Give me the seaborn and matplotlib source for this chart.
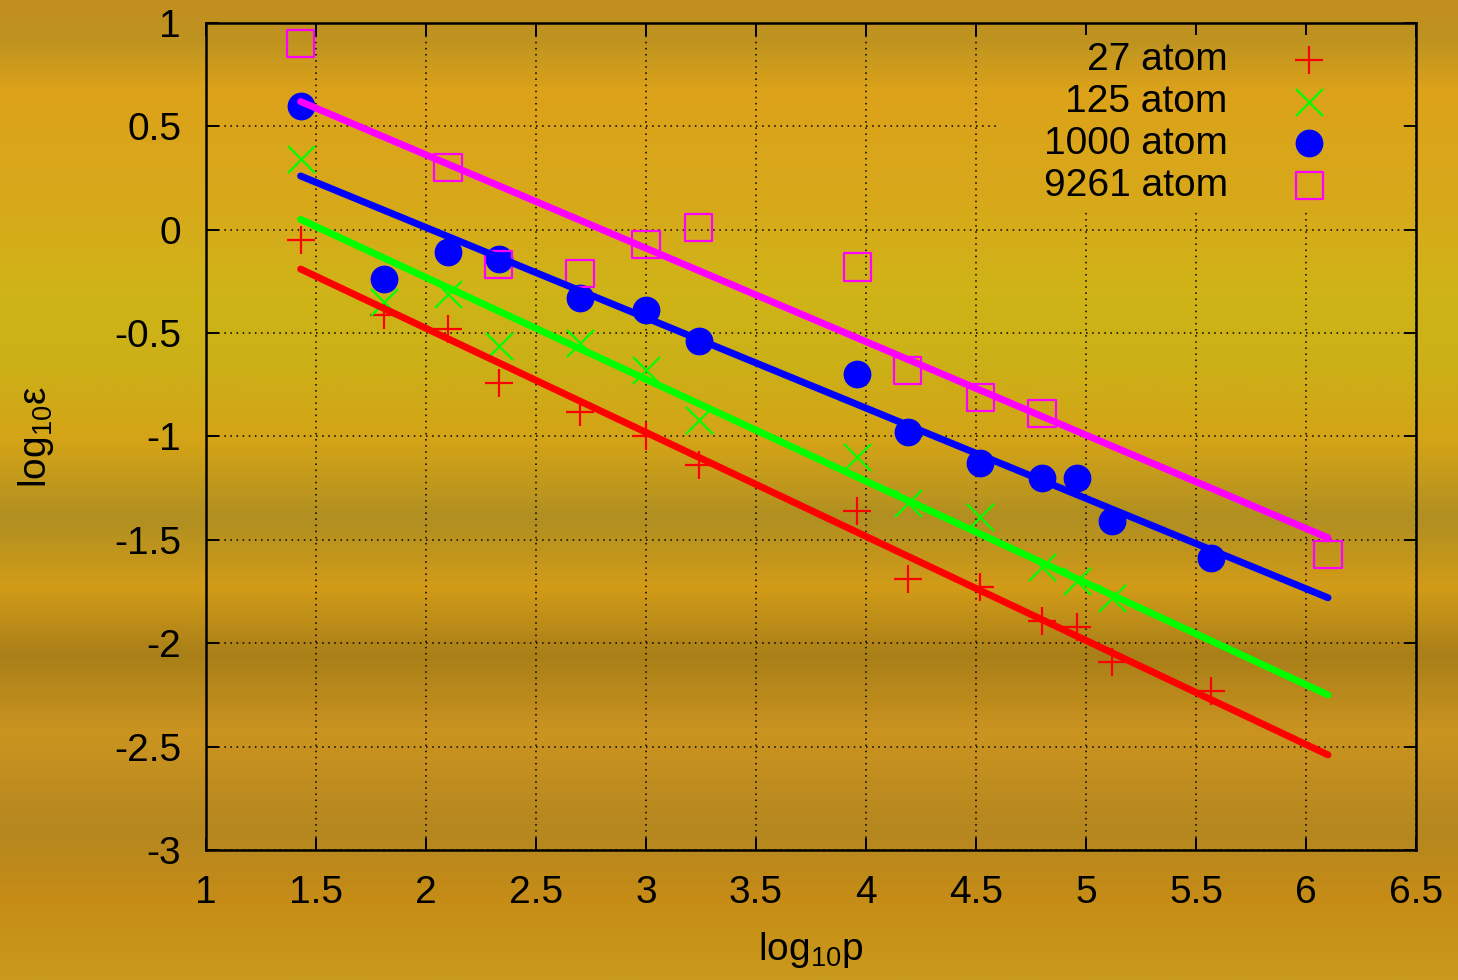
import numpy as np
import matplotlib
matplotlib.use("Agg")
import matplotlib.pyplot as plt
from matplotlib.colors import LinearSegmentedColormap
import seaborn as sns

# log10(p) and log10(eps), one pair of lists per system size
p_27 = [1.43, 1.81, 2.10, 2.33, 2.70, 3.00, 3.24, 3.96, 4.19, 4.52, 4.80, 4.96, 5.12, 5.57]
e_27 = [-0.05, -0.41, -0.48, -0.74, -0.88, -1.00, -1.14, -1.36, -1.69, -1.73, -1.89, -1.92, -2.09, -2.23]
p_125 = [1.43, 1.81, 2.10, 2.33, 2.70, 3.00, 3.24, 3.96, 4.19, 4.52, 4.80, 4.96, 5.12]
e_125 = [0.34, -0.35, -0.31, -0.56, -0.55, -0.68, -0.92, -1.10, -1.32, -1.39, -1.63, -1.70, -1.78]
p_1000 = [1.43, 1.81, 2.10, 2.33, 2.70, 3.00, 3.24, 3.96, 4.19, 4.52, 4.80, 4.96, 5.12, 5.57]
e_1000 = [0.60, -0.24, -0.11, -0.14, -0.33, -0.39, -0.54, -0.70, -0.98, -1.13, -1.20, -1.20, -1.41, -1.59]
p_9261 = [1.43, 2.10, 2.33, 2.70, 3.00, 3.24, 3.96, 4.19, 4.52, 4.80, 6.10]
e_9261 = [0.90, 0.30, -0.17, -0.21, -0.07, 0.01, -0.18, -0.68, -0.81, -0.89, -1.57]

# fitted straight lines (end points)
fit_p = [1.43, 6.10]
fit_27 = [-0.19, -2.54]
fit_125 = [0.05, -2.25]
fit_1000 = [0.26, -1.78]
fit_9261 = [0.62, -1.49]

labels = ["27 atom", "125 atom", "1000 atom", "9261 atom"]
xticks = [1, 1.5, 2, 2.5, 3, 3.5, 4, 4.5, 5, 5.5, 6, 6.5]
yticks = [-3, -2.5, -2, -1.5, -1, -0.5, 0, 0.5, 1]

sns.set_style("ticks")
plt.rcParams["font.family"] = ["Liberation Sans", "DejaVu Sans"]
plt.rcParams["text.color"] = "black"
plt.rcParams["axes.labelcolor"] = "black"
plt.rcParams["mathtext.fontset"] = "custom"
plt.rcParams["mathtext.rm"] = "Liberation Sans"
plt.rcParams["mathtext.it"] = "Liberation Sans"
plt.rcParams["mathtext.default"] = "regular"

# golden background, top -> bottom
bg_cmap = LinearSegmentedColormap.from_list("gold", [
    (0.00, "#C38E1E"), (0.04, "#BE9420"), (0.09, "#DCA21A"), (0.20, "#D8A81A"),
    (0.30, "#CFB418"), (0.37, "#CBB017"), (0.45, "#D4A417"), (0.53, "#B08F21"),
    (0.60, "#D29C18"), (0.67, "#A97F18"), (0.75, "#CB9420"), (0.85, "#B5871F"),
    (0.92, "#C68C16"), (1.00, "#C99A1C")])

fig = plt.figure(figsize=(14.58, 9.80), dpi=100)
bg = fig.add_axes([0, 0, 1, 1])
bg.imshow(np.linspace(0, 1, 400)[:, None], aspect="auto", cmap=bg_cmap,
          extent=[0, 1, 0, 1], interpolation="bicubic")
bg.axis("off")

ax = fig.add_axes([206 / 1458, 130 / 980, 1210 / 1458, 827 / 980])
ax.set_facecolor("none")

sns.scatterplot(x=p_27, y=e_27, marker="+", color="#FF0000", s=19.5 ** 2,
                linewidth=1.6, label=labels[0], ax=ax, zorder=3)
sns.scatterplot(x=p_125, y=e_125, marker="x", color="#00FF00", s=19.5 ** 2,
                linewidth=1.6, label=labels[1], ax=ax, zorder=3)
sns.scatterplot(x=p_1000, y=e_1000, marker="o", color="#0000FF", s=20 ** 2,
                linewidth=0, label=labels[2], ax=ax, zorder=3)
sns.scatterplot(x=p_9261, y=e_9261, marker="s", facecolor="none",
                edgecolor="#FF00FF", s=19.5 ** 2, linewidth=1.6,
                label=labels[3], ax=ax, zorder=3)

for fy, col in zip([fit_27, fit_125, fit_1000, fit_9261],
                   ["#FF0000", "#00FF00", "#0000FF", "#FF00FF"]):
    sns.lineplot(x=fit_p, y=fy, color=col, linewidth=5, ax=ax,
                 legend=False, zorder=4)

# key area has no grid, only the background shows through
top_f, bot_f = 35 / 980, 210 / 980
ax.imshow(np.linspace(top_f, bot_f, 100)[:, None], aspect="auto", cmap=bg_cmap,
          vmin=0, vmax=1, extent=[4.61, 6.44, 0.097, 0.94], zorder=0.8,
          interpolation="bicubic")

ax.set_xlim(1, 6.5)
ax.set_ylim(-3, 1)
ax.set_xticks(xticks)
ax.set_yticks(yticks)
ax.set_xticklabels([f"{t:g}" for t in xticks])
ax.set_yticklabels([f"{t:g}" for t in yticks])
ax.set_axisbelow(True)
ax.grid(True, color="black", linestyle=(0, (1, 3)), linewidth=1.1)
ax.tick_params(direction="in", length=9, width=1.4, top=True, right=True,
               labelsize=28, pad=18, colors="black")
for sp in ax.spines.values():
    sp.set_visible(True)
    sp.set_linewidth(1.8)
    sp.set_color("black")

ax.set_xlabel("log$_{10}$p", fontsize=28, labelpad=14)
ax.set_ylabel("log$_{10}$ε", fontsize=28, labelpad=42)

ax.legend(loc="upper right", bbox_to_anchor=(0.944, 0.977), markerfirst=False,
          frameon=False, fontsize=28, handlelength=2.0, handletextpad=1.1,
          labelspacing=0.15, borderpad=0, borderaxespad=0)

fig.savefig("out.png", dpi=100)
plt.close(fig)
